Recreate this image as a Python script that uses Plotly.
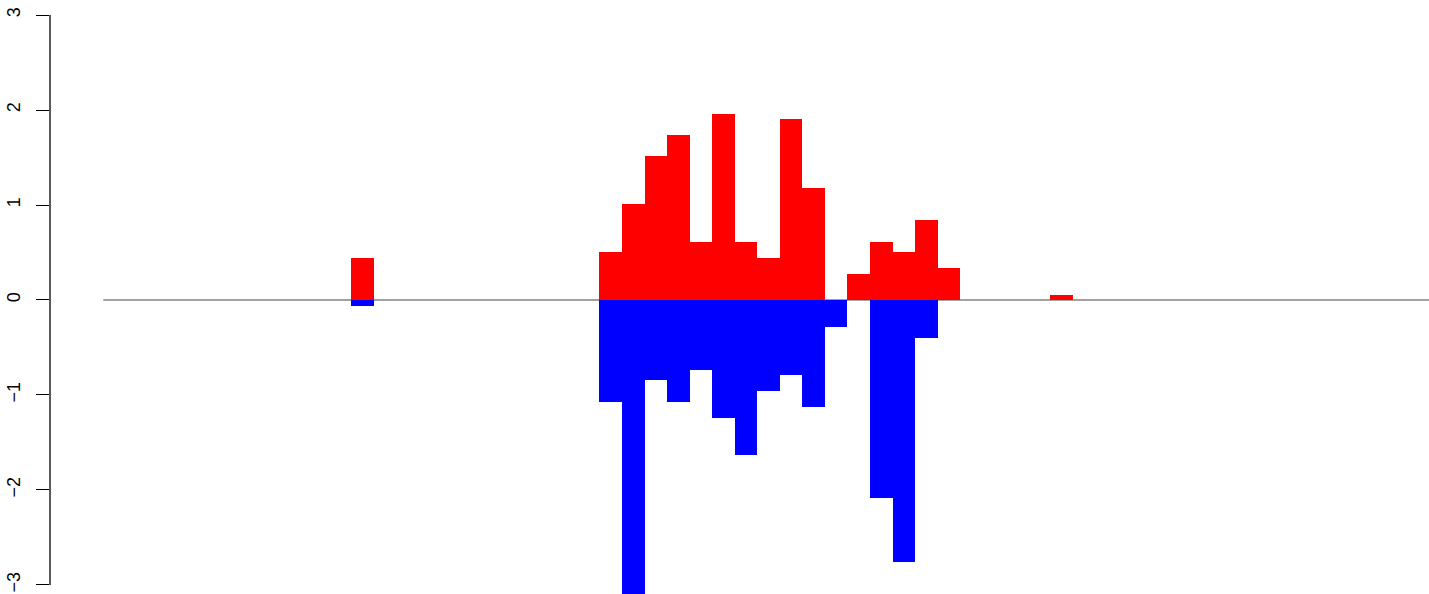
import plotly.graph_objects as go

# bin positions (index along the horizontal axis)
positions = list(range(0, 59))

# upper (red) values by bin index
up_values = {11: 0.44, 22: 0.51, 23: 1.01, 24: 1.52, 25: 1.74, 26: 0.61, 27: 1.96,
             28: 0.61, 29: 0.44, 30: 1.91, 31: 1.18, 33: 0.27, 34: 0.61, 35: 0.51,
             36: 0.84, 37: 0.34, 42: 0.05}
# lower (blue) values by bin index
down_values = {11: -0.06, 22: -1.07, 23: -3.10, 24: -0.84, 25: -1.07, 26: -0.74,
               27: -1.24, 28: -1.63, 29: -0.96, 30: -0.79, 31: -1.13, 32: -0.28,
               34: -2.08, 35: -2.76, 36: -0.40}

up = [up_values.get(p, 0) for p in positions]
down = [down_values.get(p, 0) for p in positions]

y_ticks = [-3, -2, -1, 0, 1, 2, 3]

fig = go.Figure()
fig.add_trace(go.Bar(x=positions, y=up, width=1, marker=dict(color="#FF0000", line=dict(width=0)),
                     showlegend=False, hoverinfo="x+y"))
fig.add_trace(go.Bar(x=positions, y=down, width=1, marker=dict(color="#0000FF", line=dict(width=0)),
                     showlegend=False, hoverinfo="x+y"))

# horizontal zero reference line
fig.add_shape(type="line", xref="x", yref="y", x0=-0.5, x1=70, y0=0, y1=0,
              line=dict(color="#444444", width=1), layer="below")
# y axis line spanning tick range
fig.add_shape(type="line", xref="paper", yref="y", x0=0, x1=0, y0=-3, y1=3,
              line=dict(color="black", width=1.3), layer="above")

fig.update_layout(
    width=1429, height=594,
    margin=dict(l=50, r=0, t=0, b=0, autoexpand=False),
    plot_bgcolor="white", paper_bgcolor="white",
    barmode="overlay", bargap=0,
    font=dict(family="Liberation Sans, Arial, sans-serif", color="black"),
    xaxis=dict(visible=False, range=[-2.864, 58.29], showgrid=False, zeroline=False, automargin=False),
    yaxis=dict(range=[-3.095, 3.158], tickvals=y_ticks, ticktext=[str(v).replace("-", "\u2212") for v in y_ticks],
               tickangle=-90, ticks="outside", ticklen=13, tickwidth=1.3, tickcolor="black",
               showline=False, showgrid=False, zeroline=False, automargin=False,
               tickfont=dict(size=18, family="Liberation Sans, Arial, sans-serif", color="black"),
               ticklabelstandoff=9),
)

fig.write_html("out.html", config={"displayModeBar": False},
               post_script="document.body.style.margin='0';document.body.style.overflow='hidden';")
